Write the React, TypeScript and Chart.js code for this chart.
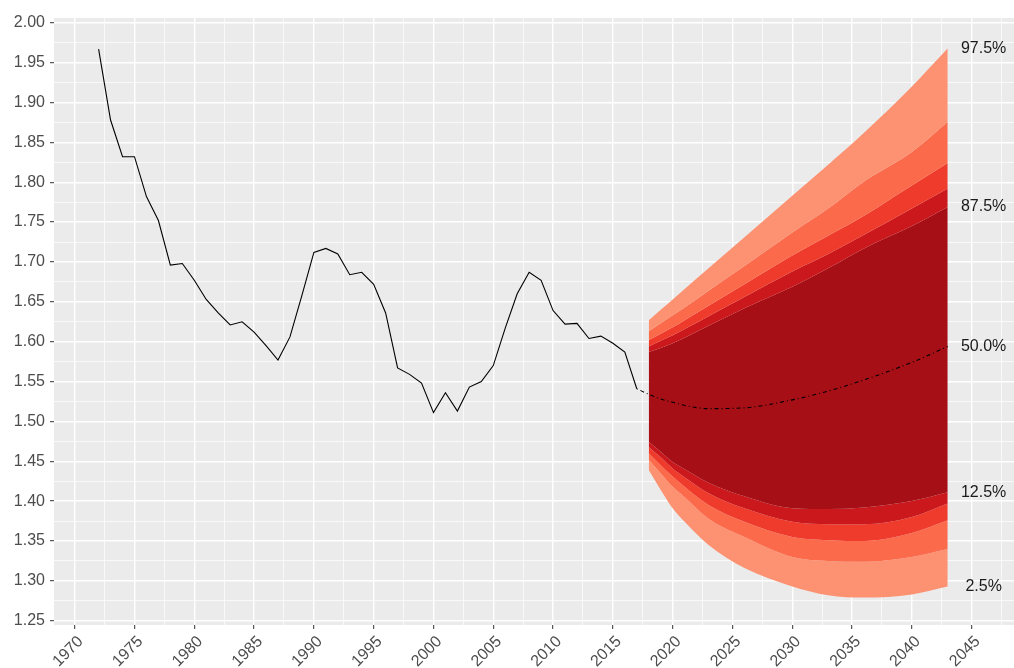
import React, { useEffect, useRef } from 'react';
import { Chart, registerables } from 'chart.js';

Chart.register(...registerables);

// ---------- data ----------
const histYears = [
  1972, 1973, 1974, 1975, 1976, 1977, 1978, 1979, 1980, 1981, 1982, 1983, 1984, 1985, 1986, 1987,
  1988, 1989, 1990, 1991, 1992, 1993, 1994, 1995, 1996, 1997, 1998, 1999, 2000, 2001, 2002, 2003,
  2004, 2005, 2006, 2007, 2008, 2009, 2010, 2011, 2012, 2013, 2014, 2015, 2016, 2017,
];
const histValues = [
  1.967, 1.878, 1.832, 1.832, 1.782, 1.752, 1.696, 1.698, 1.677, 1.653, 1.636, 1.621, 1.625, 1.612, 1.595, 1.577,
  1.606, 1.658, 1.712, 1.717, 1.710, 1.684, 1.687, 1.672, 1.636, 1.567, 1.559, 1.548, 1.511, 1.536, 1.513, 1.543,
  1.550, 1.570, 1.617, 1.660, 1.687, 1.677, 1.639, 1.622, 1.623, 1.604, 1.607, 1.598, 1.587, 1.541,
];

const medianYears = [2017, 2018, 2019, 2020, 2021, 2023, 2026, 2030, 2033, 2036, 2040, 2043];
const medianValues = [1.541, 1.534, 1.528, 1.524, 1.520, 1.516, 1.517, 1.527, 1.538, 1.552, 1.574, 1.594];

const fanYears = [2018, 2019, 2020, 2021, 2023, 2026, 2030, 2033, 2036, 2040, 2043];
const q975 = [1.627, 1.640, 1.653, 1.666, 1.692, 1.731, 1.783, 1.822, 1.862, 1.920, 1.968];
const q950 = [1.613, 1.623, 1.633, 1.643, 1.664, 1.695, 1.737, 1.767, 1.801, 1.838, 1.876];
const q925 = [1.602, 1.610, 1.618, 1.627, 1.645, 1.672, 1.708, 1.733, 1.758, 1.796, 1.824];
const q900 = [1.594, 1.601, 1.608, 1.616, 1.632, 1.656, 1.688, 1.710, 1.734, 1.767, 1.792];
const q875 = [1.587, 1.592, 1.598, 1.605, 1.620, 1.642, 1.669, 1.692, 1.717, 1.745, 1.769];
const q125 = [1.4745, 1.462, 1.449, 1.440, 1.423, 1.406, 1.391, 1.390, 1.392, 1.400, 1.411];
const q100 = [1.468, 1.455, 1.441, 1.430, 1.410, 1.391, 1.374, 1.371, 1.371, 1.380, 1.397];
const q075 = [1.460, 1.445, 1.431, 1.418, 1.395, 1.374, 1.355, 1.351, 1.350, 1.360, 1.376];
const q050 = [1.452, 1.435, 1.418, 1.405, 1.378, 1.355, 1.330, 1.325, 1.324, 1.330, 1.340];
const q025 = [1.439, 1.414, 1.391, 1.374, 1.345, 1.316, 1.293, 1.282, 1.279, 1.283, 1.293];

const quantileLabels = ['97.5%', '87.5%', '50.0%', '12.5%', '2.5%'];
const quantileLabelSeries = [q975, q875, medianValues, q125, q025];
const labelYear = 2046;

const yMajorTicks = [1.25, 1.3, 1.35, 1.4, 1.45, 1.5, 1.55, 1.6, 1.65, 1.7, 1.75, 1.8, 1.85, 1.9, 1.95, 2.0];
const xMajorTicks = [1970, 1975, 1980, 1985, 1990, 1995, 2000, 2005, 2010, 2015, 2020, 2025, 2030, 2035, 2040, 2045];

const xMin = 1968.27;
const xMax = 2048.54;
const yMin = 1.2446;
const yMax = 2.006;

// ---------- helpers ----------
const pts = (xs: number[], ys: number[]) => xs.map((x, i) => ({ x, y: ys[i] }));

const withMinors = (majors: number[], lo: number, hi: number) => {
  const step = majors[1] - majors[0];
  const all: number[] = [...majors];
  for (let i = -1; i < majors.length; i++) {
    const m = majors[0] + (i + 0.5) * step;
    if (m > lo && m < hi) all.push(m);
  }
  return all.sort((a, b) => a - b);
};

const isMajor = (v: number, majors: number[]) => majors.some((m) => Math.abs(m - v) < 1e-6);

const FONT = '"Liberation Sans", Arial, sans-serif';

const bgPlugin = {
  id: 'panelBg',
  beforeDraw(chart: any) {
    const { ctx, chartArea } = chart;
    ctx.save();
    ctx.fillStyle = '#ffffff';
    ctx.fillRect(0, 0, chart.width, chart.height);
    ctx.fillStyle = '#EBEBEB';
    ctx.fillRect(chartArea.left, chartArea.top, chartArea.right - chartArea.left, chartArea.bottom - chartArea.top);
    ctx.restore();
  },
};

const labelPlugin = {
  id: 'quantileLabels',
  afterDatasetsDraw(chart: any) {
    const { ctx, scales, chartArea } = chart;
    ctx.save();
    ctx.font = `16px ${FONT}`;
    ctx.fillStyle = '#1a1a1a';
    ctx.textAlign = 'center';
    ctx.textBaseline = 'middle';
    quantileLabels.forEach((t, i) => {
      const s = quantileLabelSeries[i];
      const v = s[s.length - 1];
      ctx.fillText(t, scales.x.getPixelForValue(labelYear), scales.y.getPixelForValue(v));
    });
    ctx.restore();
  },
  afterDraw(chart: any) {
    // rotated x-axis tick labels (ggplot style: hjust = 1, angle = 45)
    const { ctx, scales, chartArea } = chart;
    ctx.save();
    ctx.font = `16px ${FONT}`;
    ctx.fillStyle = '#4D4D4D';
    ctx.textAlign = 'right';
    ctx.textBaseline = 'middle';
    xMajorTicks.forEach((yr) => {
      const px = scales.x.getPixelForValue(yr);
      ctx.save();
      ctx.translate(px + 6, chartArea.bottom + 14);
      ctx.rotate(-Math.PI / 4);
      ctx.fillText(String(yr), 0, 0);
      ctx.restore();
    });
    ctx.restore();
  },
};

const band = (label: string, data: number[], color: string | false) => ({
  label,
  data: pts(fanYears, data),
  borderWidth: 0,
  borderColor: 'rgba(0,0,0,0)',
  backgroundColor: color || 'rgba(0,0,0,0)',
  pointRadius: 0,
  fill: color ? '+1' : false,
  cubicInterpolationMode: 'monotone' as const,
});

export default function App() {
  const canvasRef = useRef<HTMLCanvasElement | null>(null);

  useEffect(() => {
    if (!canvasRef.current) return;
    const xTicks = withMinors(xMajorTicks, xMin, xMax);
    const yTicks = withMinors(yMajorTicks, yMin, yMax);

    const chart = new Chart(canvasRef.current, {
      type: 'line',
      data: {
        datasets: [
          {
            label: 'history',
            data: pts(histYears, histValues),
            borderColor: '#000000',
            borderWidth: 1.1,
            pointRadius: 0,
            fill: false,
          },
          {
            label: 'median',
            data: pts(medianYears, medianValues),
            borderColor: '#000000',
            borderWidth: 1.1,
            borderDash: [1, 3, 4, 3],
            pointRadius: 0,
            fill: false,
            cubicInterpolationMode: 'monotone',
          },
          band('97.5%', q975, '#FC9272'),
          band('95%', q950, '#FB6A4A'),
          band('92.5%', q925, '#EF3B2C'),
          band('90%', q900, '#CB181D'),
          band('87.5%', q875, '#A50F15'),
          band('12.5%', q125, '#CB181D'),
          band('10%', q100, '#EF3B2C'),
          band('7.5%', q075, '#FB6A4A'),
          band('5%', q050, '#FC9272'),
          band('2.5%', q025, false),
        ] as any,
      },
      options: {
        animation: false,
        responsive: false,
        devicePixelRatio: 1,
        layout: { padding: { top: 18, left: 0, right: 0, bottom: 0 } },
        plugins: { legend: { display: false }, tooltip: { enabled: false } },
        elements: { line: { tension: 0 } },
        scales: {
          x: {
            type: 'linear',
            min: xMin,
            max: xMax,
            afterBuildTicks: (axis: any) => {
              axis.ticks = xTicks.map((v) => ({ value: v }));
            },
            afterFit: (axis: any) => {
              axis.height = 43;
              axis.paddingLeft = 0;
              axis.paddingRight = 0;
            },
            border: { display: false },
            grid: {
              color: '#ffffff',
              lineWidth: (c: any) => (c.tick && isMajor(c.tick.value, xMajorTicks) ? 1.4 : 0.7),
              tickColor: (c: any) => (c.tick && isMajor(c.tick.value, xMajorTicks) ? '#333333' : 'rgba(0,0,0,0)'),
              tickLength: 4,
              tickWidth: 1,
            },
            ticks: {
              display: false,
              autoSkip: false,
            },
          },
          y: {
            type: 'linear',
            min: yMin,
            max: yMax,
            afterBuildTicks: (axis: any) => {
              axis.ticks = yTicks.map((v) => ({ value: v }));
            },
            afterFit: (axis: any) => {
              axis.width = 54;
              axis.paddingTop = 0;
              axis.paddingBottom = 0;
            },
            border: { display: false },
            grid: {
              color: '#ffffff',
              lineWidth: (c: any) => (c.tick && isMajor(c.tick.value, yMajorTicks) ? 1.4 : 0.7),
              tickColor: (c: any) => (c.tick && isMajor(c.tick.value, yMajorTicks) ? '#333333' : 'rgba(0,0,0,0)'),
              tickLength: 4,
              tickWidth: 1,
            },
            ticks: {
              autoSkip: false,
              padding: 5,
              color: '#4D4D4D',
              font: { family: FONT, size: 16 },
              callback: (v: any) => (isMajor(Number(v), yMajorTicks) ? Number(v).toFixed(2) : ''),
            },
          },
        },
      } as any,
      plugins: [bgPlugin, labelPlugin],
    });
    return () => chart.destroy();
  }, []);

  return (
    <div style={{ position: 'fixed', left: 0, top: 0, width: 1014, height: 668, background: '#fff' }}>
      <canvas ref={canvasRef} width={1014} height={668} style={{ display: 'block', width: 1014, height: 668 }} />
    </div>
  );
}
